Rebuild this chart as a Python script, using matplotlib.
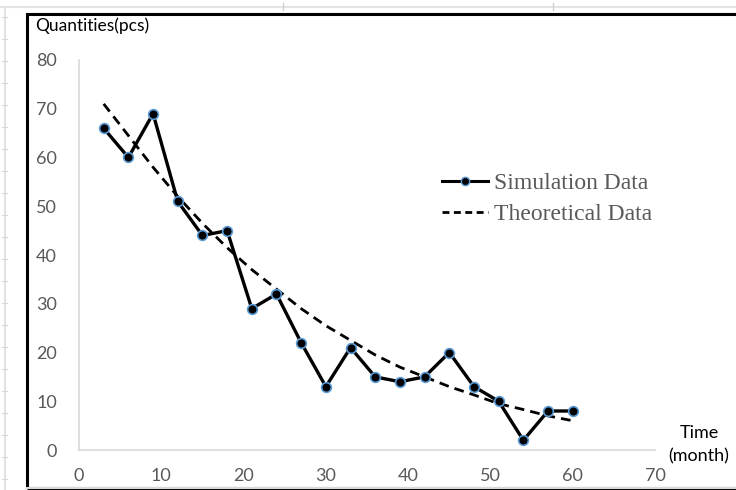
import matplotlib
matplotlib.use("Agg")
import matplotlib.pyplot as plt
from matplotlib.lines import Line2D
from matplotlib.patches import Rectangle

# Data
months = [3, 6, 9, 12, 15, 18, 21, 24, 27, 30, 33, 36, 39, 42, 45, 48, 51, 54, 57, 60]
simulation = [66, 60, 69, 51, 44, 45, 29, 32, 22, 13, 21, 15, 14, 15, 20, 13, 10, 2, 8, 8]
theoretical = [71, 64.5, 58, 52, 46.5, 41.5, 37, 33, 29, 25.5, 22.5, 19.5, 17, 15, 13, 11.3, 9.5, 8.3, 7, 6]
x_ticks = [0, 10, 20, 30, 40, 50, 60, 70]
y_ticks = [0, 10, 20, 30, 40, 50, 60, 70, 80]

W, H = 736, 490
fig = plt.figure(figsize=(W / 100, H / 100), dpi=100)
fig.patch.set_facecolor("white")

# spreadsheet-like background lines
fig.add_artist(Line2D([0, 1], [1 - 7 / H, 1 - 7 / H], color="#E3E3E3", lw=1.5, transform=fig.transFigure))
fig.add_artist(Line2D([5 / W, 5 / W], [0, 1 - 7 / H], color="#E3E3E3", lw=1.5, transform=fig.transFigure))
for xp in [283, 553]:
    fig.add_artist(Line2D([xp / W, xp / W], [1 - 3 / H, 1 - 10 / H], color="#D0D0D0", lw=1, transform=fig.transFigure))
for yp in range(17, 490, 22):
    fig.add_artist(Line2D([2 / W, 7 / W], [1 - yp / H, 1 - yp / H], color="#D8D8D8", lw=0.8, transform=fig.transFigure))
# chart border
fig.add_artist(Rectangle((27 / W, 2 / H), 1.0, 1 - 16 / H, fill=False, edgecolor="black", lw=2.2,
                         transform=fig.transFigure))
fig.add_artist(Line2D([27 / W, 1], [2 / H, 2 / H], color="#D9D9D9", lw=1.5, transform=fig.transFigure))

ax = fig.add_axes([79 / W, 40 / H, (655 - 79) / W, (450 - 60) / H])
ax.set_xlim(0, 70)
ax.set_ylim(0, 80)
ax.plot(months, theoretical, color="black", lw=2, ls=(0, (3.5, 2.2)), zorder=2,
        label="Theoretical Data")
ax.plot(months, simulation, color="black", lw=2.4, marker="o", markersize=7,
        markerfacecolor="black", markeredgecolor="#5B9BD5", markeredgewidth=1.2, zorder=3,
        label="Simulation Data")

for s in ["top", "right"]:
    ax.spines[s].set_visible(False)
for s in ["left", "bottom"]:
    ax.spines[s].set_color("#D9D9D9")
    ax.spines[s].set_linewidth(1.2)

ax.set_xticks(x_ticks)
ax.set_yticks(y_ticks)
ax.tick_params(length=0, labelsize=13, labelcolor="#595959", pad=13)
ax.tick_params(axis="y", pad=16)
for lab in ax.get_xticklabels() + ax.get_yticklabels():
    lab.set_family("Lato")

# legend
sim_handle = Line2D([], [], color="black", lw=2.2, marker="o", markersize=6,
                    markerfacecolor="black", markeredgecolor="#5B9BD5", markeredgewidth=1)
th_handle = Line2D([], [], color="black", lw=2, ls=(0, (2.5, 1.6)))
leg = ax.legend([sim_handle, th_handle], ["Simulation Data", "Theoretical Data"],
                loc="center left", bbox_to_anchor=((442 - 79) / 576, (450 - 199) / 390),
                frameon=False, prop={"family": "Liberation Serif", "size": 17}, handlelength=1.95,
                handletextpad=0.25, labelspacing=0.4, borderaxespad=0, borderpad=0)
for t in leg.get_texts():
    t.set_color("#595959")

fig.text(35 / W, 1 - 26 / H, "Quantities(pcs)", fontsize=12.5, family="Lato", color="black",
         ha="left", va="center")
fig.text(699 / W, 1 - 433 / H, "Time", fontsize=13, family="Lato", color="black",
         ha="center", va="center")
fig.text(699 / W, 1 - 456 / H, "(month)", fontsize=13, family="Lato", color="black",
         ha="center", va="center")

fig.savefig("out.png", dpi=100)
